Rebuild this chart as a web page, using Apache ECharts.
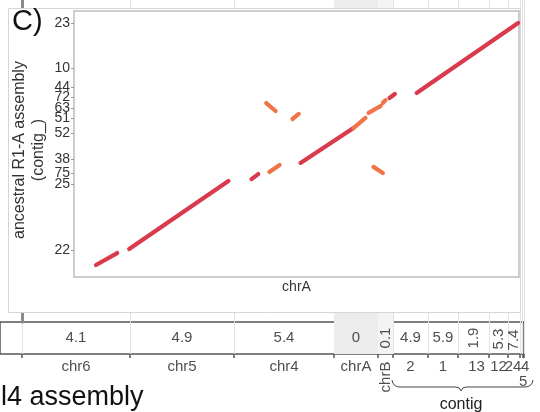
<!DOCTYPE html>
<html>
<head>
<meta charset="utf-8">
<script src="https://cdn.jsdelivr.net/npm/echarts@6/dist/echarts.min.js"></script>
<style>
html,body{margin:0;padding:0;background:#fff}
#chart{width:540px;height:412px}
</style>
</head>
<body>
<div id="chart"></div>
<script>
// dot plot chrA (x) vs ancestral R1-A assembly (y), both on a 0-100 scale
var segStart = [[4.95,4.5],[12.4,10.5],[39.9,36.8],[43.9,39.5],[50.9,42.9],[62.8,56.0],[66.2,61.7],[69.4,65.4],[70.9,67.3],[77.0,69.2],[43.2,65.4],[49.1,59.4],[67.3,41.4]];
var segEnd   = [[9.7,9.0],[34.7,36.1],[41.4,38.7],[46.2,42.1],[62.8,56.0],[65.5,59.8],[68.9,64.3],[70.0,66.5],[72.1,68.8],[99.8,95.5],[45.3,62.4],[50.5,61.3],[69.4,39.1]];
var segKind  = ['red','red','red','orange','red','orange','orange','orange','red','red','orange','orange','orange'];
var contigTicks  = [95.4,78.5,71.2,67.6,63.6,59.7,54.2,44.2,39.0,34.8,10.2];
var contigLabels = ['23','10','44','72','63','51','52','38','75','25','22'];

// l4 assembly blocks (Mb) and the value shown in each cell
var blockNames  = ['chr6','chr5','chr4','chrA','chrB','2','1','13','12','24','4','5'];
var blockSizes  = [21.6,20.8,20.0,8.8,3.0,7.0,6.0,6.2,3.8,2.4,0.5,0.3];
var blockValues = ['4.1','4.9','5.4','0','0.1','4.9','5.9','1.9','5.3','7.4','',''];
var leftPad = 4.4; // part of the block cut off at the left

var kindColor = {red:'#d93a4c', orange:'#ef7448'};
// text placement tweaks for the crowded cells
var cellStyle = {
  chrB: {valRot:90, nameRot:90, nameY:-0.72},
  '13': {valRot:90, nameDx:3},
  '12': {valRot:90, valDx:-1, nameDx:0},
  '24': {valRot:90, valDx:-2, nameDx:-1},
  '4':  {nameDx:4},
  '5':  {nameY:-0.88}
};
var FONT = "'Liberation Sans', Arial, sans-serif";

var bounds = [0], centers = [];
for (var i = 0; i < blockSizes.length; i++) {
  centers.push(bounds[i] + blockSizes[i] / 2);
  bounds.push(+(bounds[i] + blockSizes[i]).toFixed(2));
}
var xEnd = bounds[bounds.length - 1];

var segData = segStart.map(function (s, i) {
  return {coords: [s, segEnd[i]], lineStyle: {color: kindColor[segKind[i]]}};
});
var valData = [], nameData = [];
blockNames.forEach(function (n, i) {
  var st = cellStyle[n] || {};
  if (blockValues[i] !== '') {
    valData.push({value: [centers[i], 0.5],
      label: {formatter: blockValues[i], rotate: st.valRot || 0, offset: [st.valDx || 0, 0]}});
  }
  nameData.push({value: [centers[i], st.nameY || -0.41],
    label: {formatter: n, rotate: st.nameRot || 0, offset: [st.nameDx || 0, 0]}});
});
var shade = [
  [{xAxis: bounds[3], itemStyle: {color: '#ececec'}}, {xAxis: bounds[4]}],
  [{xAxis: bounds[4], itemStyle: {color: '#f4f4f4'}}, {xAxis: bounds[5]}]
];
var txt = {fontFamily: FONT, fontSize: 15, color: '#222'};

var option = {
  animation: false,
  grid: [
    {left: 74, top: 11, width: 445, height: 266, outerBoundsMode: 'none', show: true, borderColor: '#bdbdbd', borderWidth: 1.5, z: 6},
    {left: 0, top: 322, width: 524, height: 32, outerBoundsMode: 'none', show: true, borderColor: '#555', borderWidth: 1.5},
    {left: 0, top: 0, width: 524, height: 322, outerBoundsMode: 'none'}
  ],
  xAxis: [
    {gridIndex: 0, type: 'value', min: 0, max: 100, z: 6,
     axisLine: {show: false}, axisTick: {show: false}, axisLabel: {show: false}, splitLine: {show: false},
     name: 'chrA', nameLocation: 'middle', nameGap: 3,
     nameTextStyle: {fontFamily: FONT, fontSize: 14, color: '#333'}},
    {gridIndex: 1, type: 'value', min: -leftPad, max: xEnd,
     axisLine: {show: false},
     axisTick: {show: true, customValues: bounds, length: 4, lineStyle: {color: '#555', width: 1.5}},
     axisLabel: {show: false},
     splitLine: {show: true, lineStyle: {color: '#e2e2e2'}}},
    {gridIndex: 2, type: 'value', min: -leftPad, max: xEnd,
     axisLine: {show: false}, axisTick: {show: false, customValues: bounds}, axisLabel: {show: false},
     splitLine: {show: true, lineStyle: {color: '#e2e2e2'}}}
  ],
  yAxis: [
    {gridIndex: 0, type: 'value', min: 0, max: 100, z: 6,
     axisLine: {show: false},
     axisTick: {show: true, customValues: contigTicks, length: 3, lineStyle: {color: '#999'}},
     axisLabel: {customValues: contigTicks, margin: 4, fontFamily: FONT, fontSize: 14, color: '#333',
       formatter: function (v) {
         for (var k = 0; k < contigTicks.length; k++) if (Math.abs(contigTicks[k] - v) < 1e-6) return contigLabels[k];
         return '';
       }},
     splitLine: {show: false},
     name: 'ancestral R1-A assembly\n(contig_)', nameLocation: 'middle', nameRotate: 90, nameGap: 26,
     nameMoveOverlap: false,
     nameTextStyle: {fontFamily: FONT, fontSize: 16, lineHeight: 19, color: '#333', padding: [0, 12, 0, 0]}},
    {gridIndex: 1, type: 'value', min: 0, max: 1, show: false},
    {gridIndex: 2, type: 'value', min: 0, max: 1, position: 'right', offset: 1,
     axisLine: {show: true, lineStyle: {color: '#8a8a8a', width: 3}},
     axisTick: {show: false}, axisLabel: {show: false}, splitLine: {show: false}}
  ],
  series: [
    {type: 'lines', coordinateSystem: 'cartesian2d', xAxisIndex: 0, yAxisIndex: 0, z: 7,
     lineStyle: {width: 4.2, cap: 'round', opacity: 1}, data: segData},
    {type: 'scatter', xAxisIndex: 1, yAxisIndex: 1, symbolSize: 1, clip: false,
     itemStyle: {color: 'rgba(0,0,0,0)'},
     label: Object.assign({show: true, position: 'inside'}, txt),
     markArea: {silent: true, data: shade}, data: valData},
    {type: 'scatter', xAxisIndex: 1, yAxisIndex: 1, symbolSize: 1, clip: false,
     itemStyle: {color: 'rgba(0,0,0,0)'},
     label: Object.assign({show: true, position: 'inside'}, txt), data: nameData},
    {type: 'scatter', xAxisIndex: 2, yAxisIndex: 2, data: [],
     markArea: {silent: true, data: shade}}
  ],
  graphic: {elements: [
    {type: 'rect', z: 3, shape: {x: 8.5, y: 8.5, width: 512, height: 304},
     style: {fill: '#fff', stroke: '#d6d6d6', lineWidth: 1}},
    {type: 'text', z: 10, x: 12, y: 22, style: {text: 'C)', fontFamily: FONT, fontSize: 29, fill: '#111', verticalAlign: 'middle'}},
    {type: 'text', z: 10, x: 1, y: 398, style: {text: 'l4 assembly', fontFamily: FONT, fontSize: 27, fill: '#111', verticalAlign: 'middle'}},
    {type: 'text', z: 10, x: 461, y: 405, style: {text: 'contig', fontFamily: FONT, fontSize: 16, fill: '#222', align: 'center', verticalAlign: 'middle'}},
    {type: 'bezierCurve', z: 10, shape: {x1: 392, y1: 380, cpx1: 393, cpy1: 387, x2: 400, y2: 387}, style: {stroke: '#444', fill: null, lineWidth: 1}},
    {type: 'line', z: 10, shape: {x1: 400, y1: 387, x2: 456, y2: 387}, style: {stroke: '#444', lineWidth: 1}},
    {type: 'bezierCurve', z: 10, shape: {x1: 456, y1: 387, cpx1: 460, cpy1: 387, x2: 461, y2: 391}, style: {stroke: '#444', fill: null, lineWidth: 1}},
    {type: 'bezierCurve', z: 10, shape: {x1: 461, y1: 391, cpx1: 462, cpy1: 387, x2: 466, y2: 387}, style: {stroke: '#444', fill: null, lineWidth: 1}},
    {type: 'line', z: 10, shape: {x1: 466, y1: 387, x2: 525, y2: 387}, style: {stroke: '#444', lineWidth: 1}},
    {type: 'bezierCurve', z: 10, shape: {x1: 525, y1: 387, cpx1: 532, cpy1: 387, x2: 533, y2: 380}, style: {stroke: '#444', fill: null, lineWidth: 1}}
  ]}
};
var chart = echarts.init(document.getElementById('chart'));
chart.setOption(option);
</script>
</body>
</html>
